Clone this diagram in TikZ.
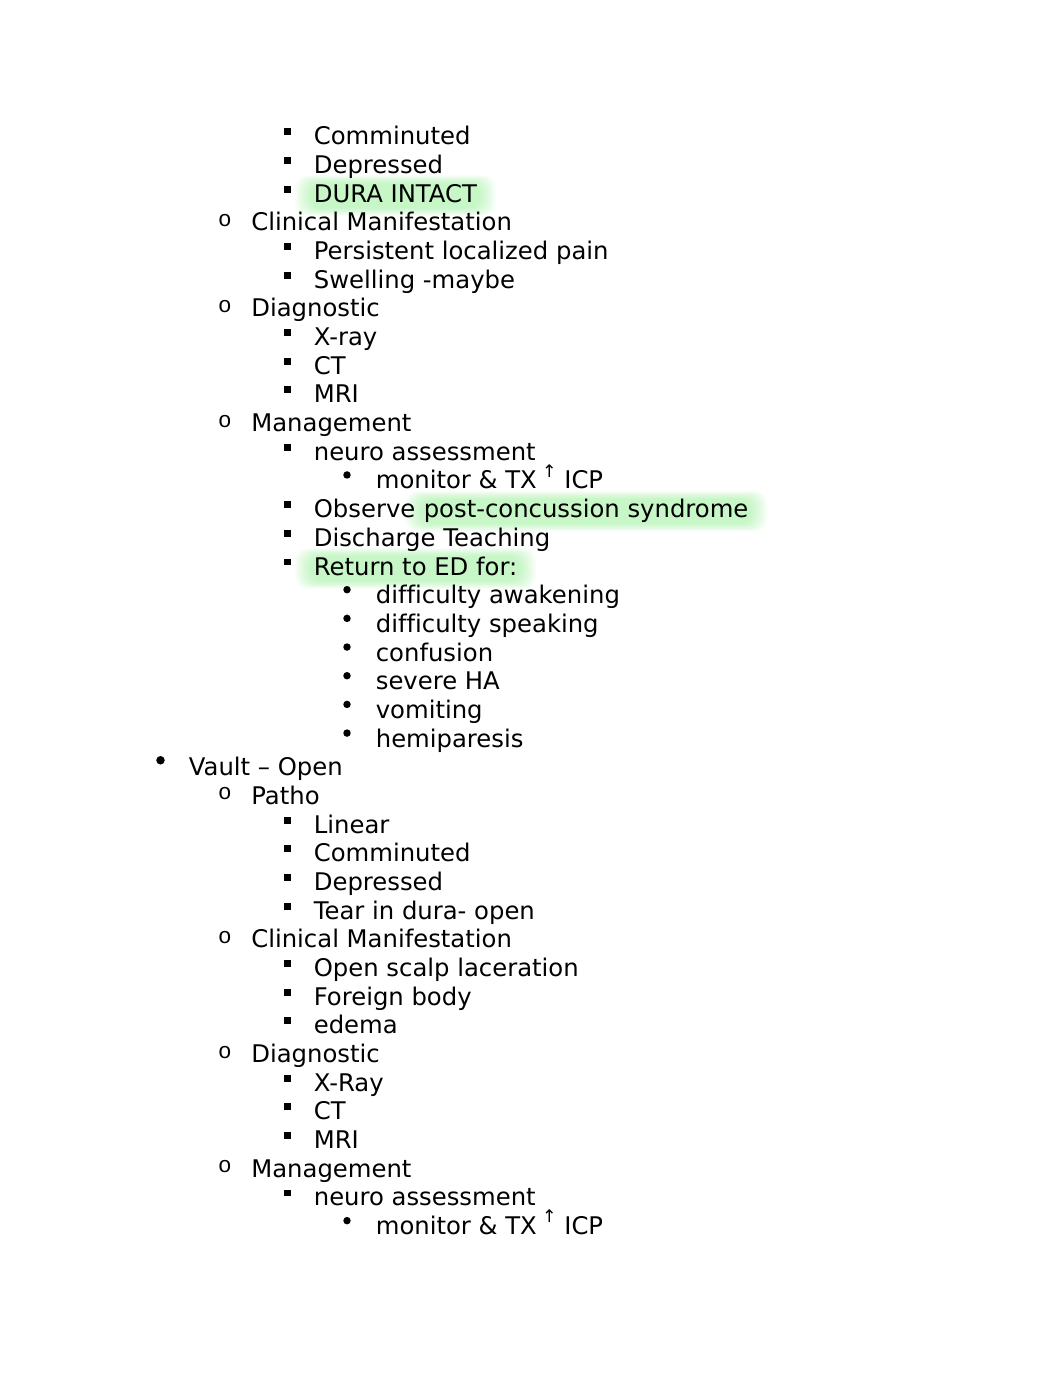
\documentclass[tikz,border=0pt]{standalone}
\usepackage{fontspec}
\setmainfont[Ligatures=NoCommon]{DejaVu Sans}
\newfontfamily\bulletfont{Liberation Mono}
\usepackage{xcolor}
\usetikzlibrary{calc, backgrounds}
\definecolor{glowgreen}{RGB}{150,238,150}

\begin{document}
\begin{tikzpicture}[x=0.576pt, y=-0.576pt]
        % Styles
        \tikzset{
          itemtext/.style={
            font=\fontsize{14}{16}\selectfont,
            anchor=base west,
            inner sep=0pt,
            text height=10.5pt, text depth=3pt
          },
          dotmark/.style={circle, fill=black, inner sep=0pt, minimum size=4.3pt},
          sqmark/.style={rectangle, fill=black, inner sep=0pt, minimum size=4pt},
          omark/.style={font=\bulletfont\fontsize{13}{14}\selectfont, anchor=base, inner sep=0pt},
          glowlayer/.style={fill=glowgreen, opacity=0.075, rounded corners=7pt}
        }

        \useasboundingbox (0,0) rectangle (1062,1376);

        % outline items: level/text
        \foreach \lv/\txt [count=\i] in {
          3/Comminuted, 3/Depressed, 3/DURA INTACT,
          2/Clinical Manifestation, 3/Persistent localized pain, 3/Swelling -maybe,
          2/Diagnostic, 3/X-ray, 3/CT, 3/MRI,
          2/Management, 3/neuro assessment,
          4/monitor \& TX\hspace{3pt}\raisebox{6.8pt}{\fontsize{10}{10}\selectfont ↑} ICP,
          3/Observe, 3/Discharge Teaching, 3/Return to ED for:,
          4/difficulty awakening, 4/difficulty speaking, 4/confusion,
          4/severe HA, 4/vomiting, 4/hemiparesis,
          1/Vault – Open,
          2/Patho, 3/Linear, 3/Comminuted, 3/Depressed, 3/Tear in dura- open,
          2/Clinical Manifestation, 3/Open scalp laceration, 3/Foreign body, 3/edema,
          2/Diagnostic, 3/X-Ray, 3/CT, 3/MRI,
          2/Management, 3/neuro assessment,
          4/monitor \& TX\hspace{3pt}\raisebox{6.8pt}{\fontsize{10}{10}\selectfont ↑} ICP%
        }{
          \pgfmathsetmacro\by{144.8+(\i-1)*28.68}
          \pgfmathsetmacro\tx{{0,188.5,251,313.5,375.5}[\lv]}
          \node[itemtext] (item\i) at (\tx,\by) {\txt};
          \ifcase\lv\or
            \node[dotmark, minimum size=4.9pt] (mark\i) at (160.5,\by-15.5) {};
          \or
            \node[omark] (mark\i) at (225,\by-4.5) {o};
          \or
            \node[sqmark] (mark\i) at (287.5,\by-13) {};
          \or
            \node[dotmark] (mark\i) at (347,\by-14) {};
          \fi
        }

        % highlighted part of item 14
        \node[itemtext, xshift=4.45pt] (item14b) at (item14.base east) {post-concussion syndrome};

        % green glow behind highlighted text
        \begin{scope}[on background layer]
          \foreach \hl in {item3, item14b, item16}{
            \foreach \k in {0,...,9}{
              \fill[glowlayer]
                ($(\hl.north west)+(-2-1.8*\k,-0.9*\k)$) rectangle
                ($(\hl.south east)+(2+1.8*\k,0.9*\k)$);
            }
          }
        \end{scope}
    \end{tikzpicture}
\end{document}
